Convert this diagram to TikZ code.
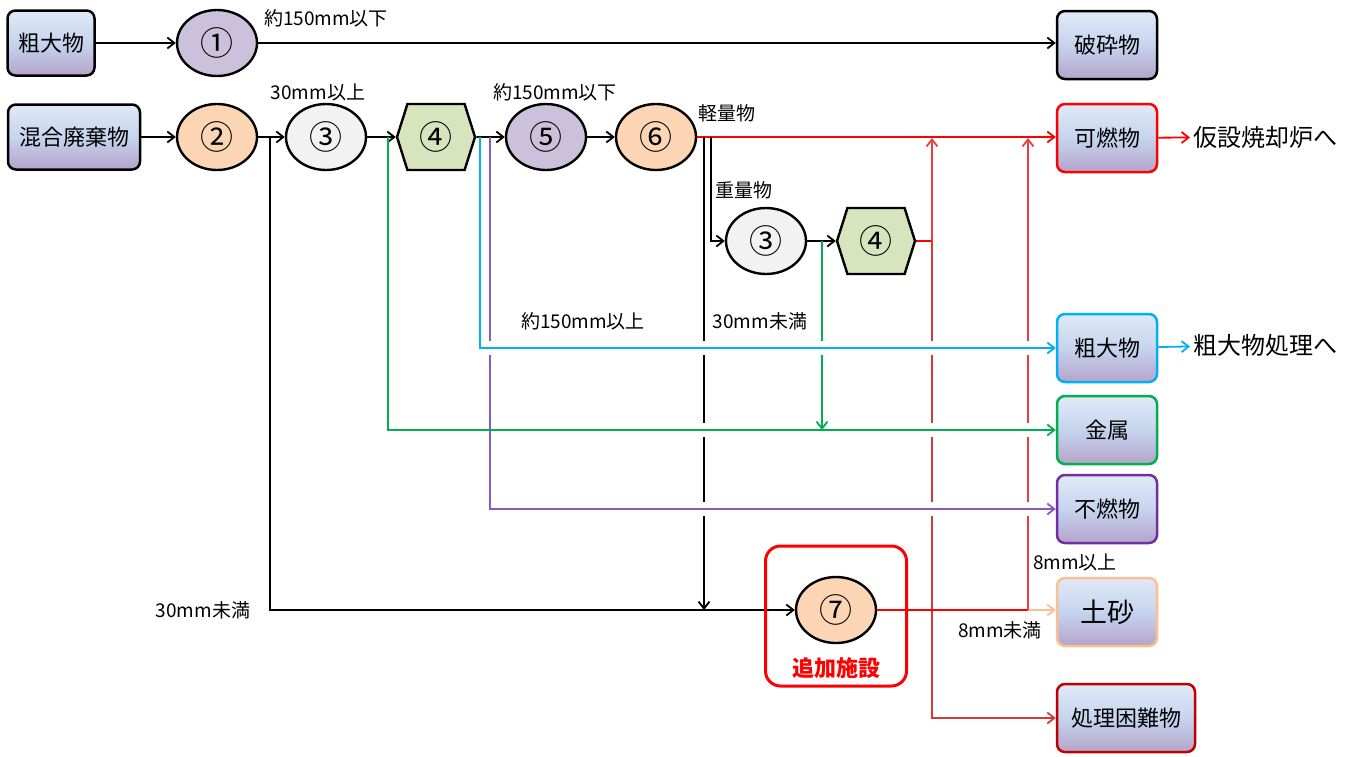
\documentclass[tikz,border=0pt]{standalone}
\usepackage{fontspec}
\setmainfont{Noto Sans CJK JP}
\usetikzlibrary{arrows.meta,shapes.geometric,shapes.symbols,backgrounds}

\definecolor{boxtop}{RGB}{224,233,246}
\definecolor{boxmid}{RGB}{198,212,238}
\definecolor{boxbot}{RGB}{180,164,202}
\definecolor{lilac}{RGB}{204,193,218}
\definecolor{peach}{RGB}{252,213,181}
\definecolor{pale}{RGB}{242,242,242}
\definecolor{sage}{RGB}{215,228,189}
\definecolor{skyline}{RGB}{0,176,240}
\definecolor{greenline}{RGB}{0,176,80}
\definecolor{purpleline}{RGB}{140,90,190}
\definecolor{purplebox}{RGB}{112,48,160}
\definecolor{sandline}{RGB}{250,192,144}
\definecolor{redline}{RGB}{232,64,64}
\definecolor{darkred}{RGB}{192,0,0}

\begin{document}
\begin{tikzpicture}[x=1pt,y=-1pt,>={Straight Barb[length=7pt,width=11pt]}]
        \tikzstyle{flowbox}=[
            rectangle,
            rounded corners=8pt,
            draw=black,
            line width=2.5pt,
            top color=boxtop,
            bottom color=boxbot,
            middle color=boxmid,
            minimum width=100pt,
            minimum height=68pt,
            font=\fontsize{22}{24}\selectfont
        ]
        \tikzstyle{procnode}=[
            ellipse,
            draw=black,
            line width=2.4pt,
            minimum width=80pt,
            minimum height=66pt,
            inner sep=0pt,
            font=\fontsize{33}{35}\selectfont
        ]
        \tikzstyle{sortnode}=[
            signal,
            signal to=east and west,
            signal pointer angle=145,
            draw=black,
            line width=2.4pt,
            fill=sage,
            minimum width=78pt,
            minimum height=66pt,
            inner sep=0pt,
            font=\fontsize{33}{35}\selectfont
        ]
        \tikzstyle{note}=[inner sep=1pt, font=\fontsize{19}{21}\selectfont]
        \tikzstyle{gapline}=[white, line width=14pt]

        \useasboundingbox (0,0) rectangle (1359,756);

        % inputs, steps and outputs
        \node[flowbox, minimum width=87pt, minimum height=65pt] (bulkin) at (51,43){粗大物};
        \node[procnode, fill=lilac] (p1) at (217,43){①};
        \node[flowbox] (crushed) at (1107,45){破砕物};
        \node[flowbox, minimum width=132pt, minimum height=65pt] (mixed) at (74,137){混合廃棄物};
        \node[procnode, fill=peach] (p2) at (217,137){②};
        \node[procnode, fill=pale] (p3) at (326,137){③};
        \node[sortnode] (p4) at (436,137){④};
        \node[procnode, fill=lilac] (p5) at (546,137){⑤};
        \node[procnode, fill=peach] (p6) at (656,137){⑥};
        \node[procnode, fill=pale] (p3b) at (766,241){③};
        \node[sortnode] (p4b) at (876,241){④};
        \node[draw=red, line width=3pt, rounded corners=15pt, minimum width=141pt, minimum height=140pt] (extra) at (836,616){};
        \node[procnode, fill=peach] (p7) at (836,610){⑦};
        \node[text=red, font=\fontsize{22}{24}\selectfont\bfseries] (extralbl) at (836,668){追加施設};

        \node[flowbox, draw=red] (burn) at (1107,138){可燃物};
        \node[flowbox, draw=skyline] (bulkout) at (1107,348){粗大物};
        \node[flowbox, draw=greenline] (metal) at (1107,430){金属};
        \node[flowbox, draw=purplebox] (nonburn) at (1107,509){不燃物};
        \node[flowbox, draw=sandline, font=\fontsize{27}{29}\selectfont] (soil) at (1107,612){土砂};
        \node[flowbox, draw=darkred, minimum width=138pt] (hard) at (1126,718){処理困難物};
        \node[anchor=west, font=\fontsize{24}{26}\selectfont] (incin) at (1190,137){仮設焼却炉へ};
        \node[anchor=west, font=\fontsize{24}{26}\selectfont] (bulkproc) at (1190,345){粗大物処理へ};

        % labels
        \node[note] (lbl1) at (326,18){約150mm以下};
        \node[note] (lbl2) at (318,92){30mm以上};
        \node[note] (lbl3) at (555,92){約150mm以下};
        \node[note] (lbl4) at (727,113){軽量物};
        \node[note] (lbl5) at (744,190){重量物};
        \node[note] (lbl6) at (583,321){約150mm以上};
        \node[note] (lbl7) at (760,321){30mm未満};
        \node[note] (lbl8) at (203,610){30mm未満};
        \node[note] (lbl9) at (1075,562){8mm以上};
        \node[note] (lbl10) at (1000,630){8mm未満};

        % branch points
        \coordinate (j2) at (270,137);
        \coordinate (j3) at (388,137);
        \coordinate (j4c) at (480,137);
        \coordinate (j4p) at (490,137);
        \coordinate (j6a) at (704,137);
        \coordinate (j6b) at (711,137);
        \coordinate (j3b) at (822,241);
        \coordinate (r1) at (932,241);
        \coordinate (r2) at (1028,610);

        \begin{pgfonlayer}{background}
        \fill[white] (0,0) rectangle (1359,756);
        \begin{scope}[line width=1.8pt]
        \draw[->] (bulkin) -- (p1);
        \draw[->] (p1.east) -- (p1.east -| crushed.west);
        \draw[->] (mixed) -- (p2);
        \draw[->] (p2) -- (p3);
        \draw[->] (p3) -- (p4);
        \draw[->] (p4) -- (p5);
        \draw[->] (p5) -- (p6);
        \draw[red, ->] (p6.east) -- (p6.east -| burn.west);
        \draw[red, ->] (burn) -- (incin);
        \draw[->] (j2) |- (p7.west);
        \draw[->] (j6a) -- (j6a |- p7.west);
        \draw[->] (j6b) |- (p3b.west);
        \draw[->] (p3b) -- (p4b);

        % returns to the combustible line
        \draw[red] (p4b.east) -- (r1);
        \draw[redline, ->] (r1) -- (r1 |- burn.west);
        \draw[redline!90!black, ->] (r1) |- (hard.west);
        \draw[sandline, ->] (p7.east) -- (p7.east -| soil.west);
        \draw[red] (p7.east) -- (r2);
        \draw[redline, ->] (r2) -- (r2 |- burn.west);

        % crossing lines, cut by a white band
        \draw[gapline] (j4p |- nonburn.west) ++(5,0) -- (nonburn.west);
        \draw[purpleline, ->] (j4p) |- (nonburn.west);
        \draw[gapline] (j6a |- metal.west) ++(-20,0) -- (metal.west);
        \draw[greenline, ->] (j3) |- (metal.west);
        \draw[greenline, ->] (j3b) -- (j3b |- metal.west);
        \draw[gapline] (j4c |- bulkout.west) ++(5,0) -- (bulkout.west);
        \draw[skyline, ->] (j4c) |- (bulkout.west);
        \draw[skyline, ->] (bulkout) -- (bulkproc);
        \end{scope}
        \end{pgfonlayer}

    \end{tikzpicture}
\end{document}
